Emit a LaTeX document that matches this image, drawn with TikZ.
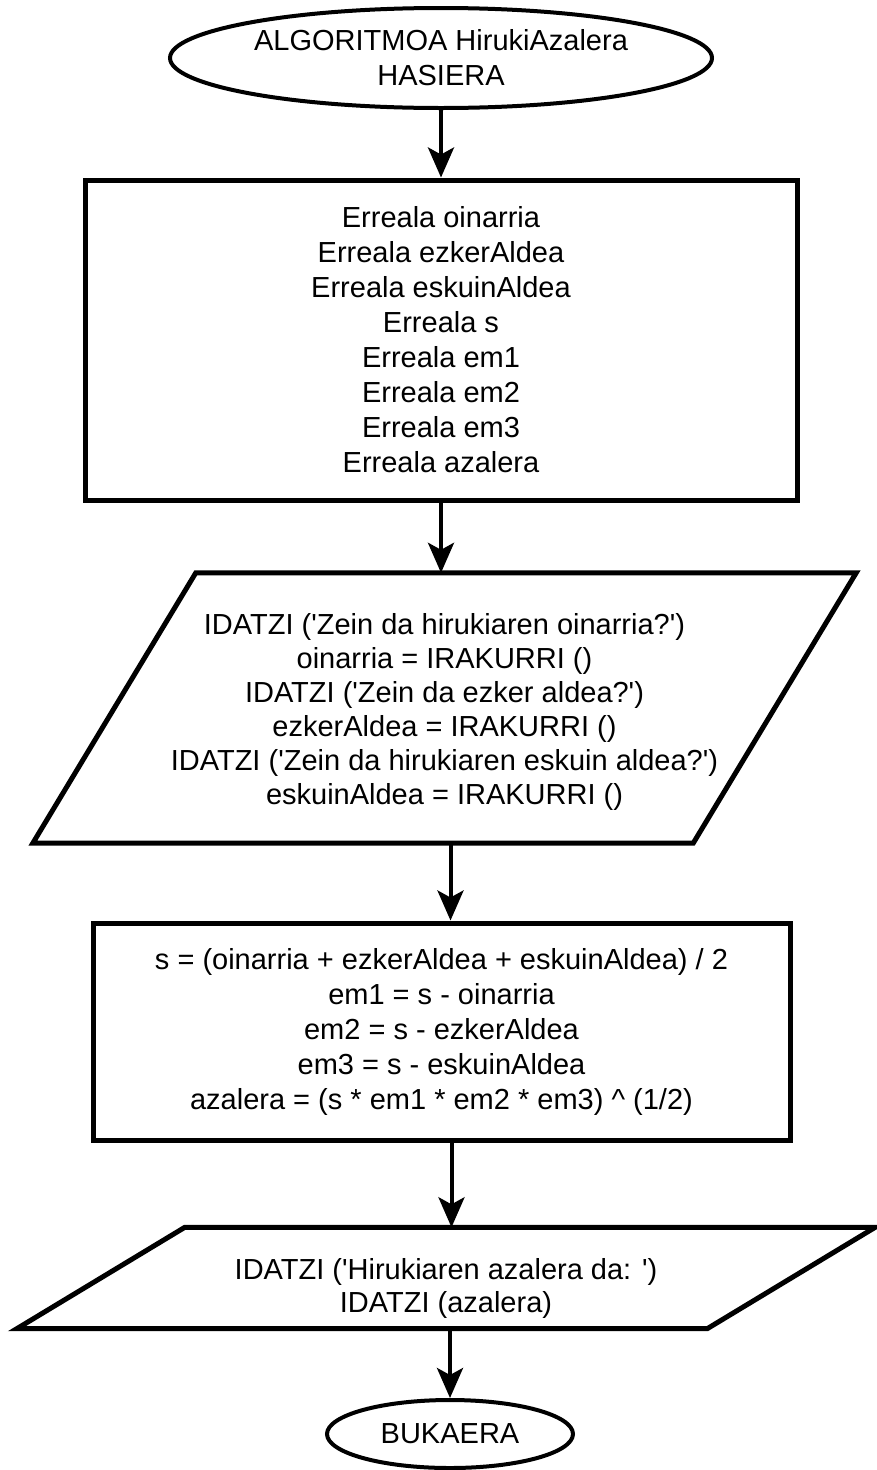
\documentclass[tikz,border=0pt]{standalone}
\usepackage{fontspec}
\newfontfamily\flowfont{Liberation Sans}
\usetikzlibrary{shapes.geometric,arrows.meta,calc}
\begin{document}
\begin{tikzpicture}[x=1pt,y=-1pt,
  every node/.style={font=\flowfont\fontsize{29}{35}\selectfont, align=center, inner sep=0pt},
  term/.style={ellipse, draw, line width=4pt},
  procbox/.style={rectangle, draw, line width=5pt},
  iobox/.style={rectangle},
  outline/.style={line width=5pt, line join=miter},
  flow/.style={line width=4pt, -{Stealth[length=30pt,width=26pt,inset=7pt]}}]
\useasboundingbox (0,0) rectangle (876,1470);

% start terminal
\node[term, minimum width=542pt, minimum height=100pt] (start) at (441,58)
  {ALGORITMOA HirukiAzalera\\HASIERA};

% declarations
\node[procbox, minimum width=712pt, minimum height=320pt] (decl) at (441,340)
  {Erreala oinarria\\Erreala ezkerAldea\\Erreala eskuinAldea\\Erreala s\\
   Erreala em1\\Erreala em2\\Erreala em3\\Erreala azalera};

% input block (parallelogram)
\node[iobox, minimum width=660pt, minimum height=270pt,
      font=\flowfont\fontsize{29}{34}\selectfont] (in1) at (444.5,712)
  {IDATZI ('Zein da hirukiaren oinarria?')\\oinarria = IRAKURRI ()\\
   IDATZI ('Zein da ezker aldea?')\\ezkerAldea = IRAKURRI ()\\
   IDATZI ('Zein da hirukiaren eskuin aldea?')\\eskuinAldea = IRAKURRI ()};
\draw[outline] ($(in1.north west)+(81.5,-4)$) -- ($(in1.north east)+(81.5,-4)$)
  -- ($(in1.south east)+(-81.5,-4)$) -- ($(in1.south west)+(-81.5,-4)$) -- cycle;

% computation
\node[procbox, minimum width=697pt, minimum height=217pt] (proc) at (441.5,1031.5)
  {s = (oinarria + ezkerAldea + eskuinAldea) / 2\\em1 = s - oinarria\\
   em2 = s - ezkerAldea\\em3 = s - eskuinAldea\\
   azalera = (s * em1 * em2 * em3) \textasciicircum{} (1/2)};

% output block (parallelogram)
\node[iobox, minimum width=690pt, minimum height=101pt,
      font=\flowfont\fontsize{29}{33}\selectfont] (in2) at (446,1288)
  {IDATZI ('Hirukiaren azalera da: ')\\IDATZI (azalera)};
\draw[outline] ($(in2.north west)+(84,-10)$) -- ($(in2.north east)+(84,-10)$)
  -- ($(in2.south east)+(-84,-10)$) -- ($(in2.south west)+(-84,-10)$) -- cycle;

% end terminal
\node[term, minimum width=246pt, minimum height=68pt] (stop) at (450,1434) {BUKAERA};

% connectors
\coordinate (a3) at ($(in1.south)+(6,-4)$);
\coordinate (a4) at ($(proc.south)+(10,0)$);
\coordinate (a5) at ($(in2.south)+(4,-10)$);
\draw[flow] (start.south) -- (decl.north);
\draw[flow] (decl.south) -- ($(decl.south |- in1.north)+(0,-4)$);
\draw[flow] (a3) -- (a3 |- proc.north);
\draw[flow] (a4) -- ($(a4 |- in2.north)+(0,-10)$);
\draw[flow] (a5) -- (a5 |- stop.north);
\end{tikzpicture}
\end{document}
